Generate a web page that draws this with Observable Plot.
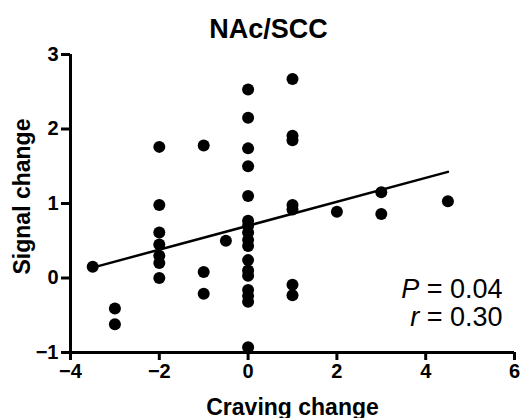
<!DOCTYPE html>
<html>
<head>
<meta charset="utf-8">
<script src="https://cdn.jsdelivr.net/npm/d3@7"></script>
<script src="https://cdn.jsdelivr.net/npm/@observablehq/plot@0.6"></script>
<style>
  html, body { margin: 0; padding: 0; background: white; }
</style>
</head>
<body>
<div id="chart"></div>
<script>
const title = "NAc/SCC";
const xLabel = "Craving change";
const yLabel = "Signal change";
const xTicks = [-4, -2, 0, 2, 4, 6];
const yTicks = [-1, 0, 1, 2, 3];
const statP = "0.04";
const statR = "0.30";

const craving = [
  -3.5,
  -3, -3,
  -2, -2, -2, -2, -2, -2, -2,
  -1, -1, -1,
  -0.5,
  0, 0, 0, 0, 0, 0, 0, 0, 0, 0, 0, 0, 0, 0, 0, 0, 0,
  1, 1, 1, 1, 1, 1, 1,
  2,
  3, 3,
  4.5
];
const signal = [
  0.15,
  -0.41, -0.62,
  1.76, 0.98, 0.61, 0.45, 0.30, 0.20, 0.00,
  1.78, 0.08, -0.21,
  0.50,
  2.53, 2.15, 1.74, 1.50, 1.10, 0.77, 0.70, 0.61, 0.51, 0.43, 0.24, 0.10, 0.03, -0.16, -0.24, -0.32, -0.93,
  2.67, 1.91, 1.85, 0.98, 0.92, -0.09, -0.23,
  0.89,
  1.15, 0.86,
  1.03
];

const data = craving.map((c, i) => ({craving: c, signal: signal[i]}));
const fmt = d => (d < 0 ? "\u2212" : "") + Math.abs(d);

const chart = Plot.plot({
  width: 524,
  height: 418,
  marginLeft: 70,
  marginRight: 10,
  marginTop: 54,
  marginBottom: 66,
  style: {fontFamily: '"Liberation Sans", Arial, sans-serif', color: "black", background: "white", overflow: "visible"},
  x: {domain: [-4, 6]},
  y: {domain: [-1, 3]},
  marks: [
    Plot.axisX({ticks: xTicks, tickFormat: fmt, tickSize: 8, tickPadding: 3, strokeWidth: 3, fontSize: 20, fontWeight: "bold", label: null}),
    Plot.axisY({ticks: yTicks, tickFormat: fmt, tickSize: 9, tickPadding: 3, strokeWidth: 3, fontSize: 20, fontWeight: "bold", label: null}),
    Plot.ruleX([-4], {strokeWidth: 3, stroke: "black"}),
    Plot.ruleY([-1], {strokeWidth: 3, stroke: "black"}),
    Plot.linearRegressionY(data, {x: "craving", y: "signal", ci: 0, stroke: "black", strokeWidth: 2.5}),
    Plot.dot(data, {x: "craving", y: "signal", r: 6, fill: "black", stroke: null}),
    Plot.text([title], {frameAnchor: "top", lineAnchor: "bottom", dx: -24, dy: -17, fontSize: 27, fontWeight: "bold"}),
    Plot.text([xLabel], {frameAnchor: "bottom", lineAnchor: "bottom", dy: 62, fontSize: 23, fontWeight: "bold"}),
    Plot.text([yLabel], {frameAnchor: "left", textAnchor: "middle", lineAnchor: "bottom", rotate: -90, dx: -41, dy: -7, fontSize: 23, fontWeight: "bold"}),
    Plot.text(["P = " + statP], {frameAnchor: "bottom-right", textAnchor: "end", lineAnchor: "bottom", dx: -12, dy: -55, fontSize: 27}),
    Plot.text(["r = " + statR], {frameAnchor: "bottom-right", textAnchor: "end", lineAnchor: "bottom", dx: -12, dy: -27, fontSize: 27})
  ]
});

d3.select(chart).selectAll("text").each(function() {
  const t = this.textContent;
  const m = /^([Pr]) = (.*)$/.exec(t);
  if (m) {
    const sel = d3.select(this);
    sel.text(null);
    sel.append("tspan").attr("font-style", "italic").text(m[1]);
    sel.append("tspan").text(" = " + m[2]);
  }
});
d3.select(chart).selectAll('g[aria-label$="tick"]').attr("stroke-width", 3)
  .selectAll("path, line").attr("stroke-width", 3);

document.getElementById("chart").appendChild(chart);
</script>
</body>
</html>
